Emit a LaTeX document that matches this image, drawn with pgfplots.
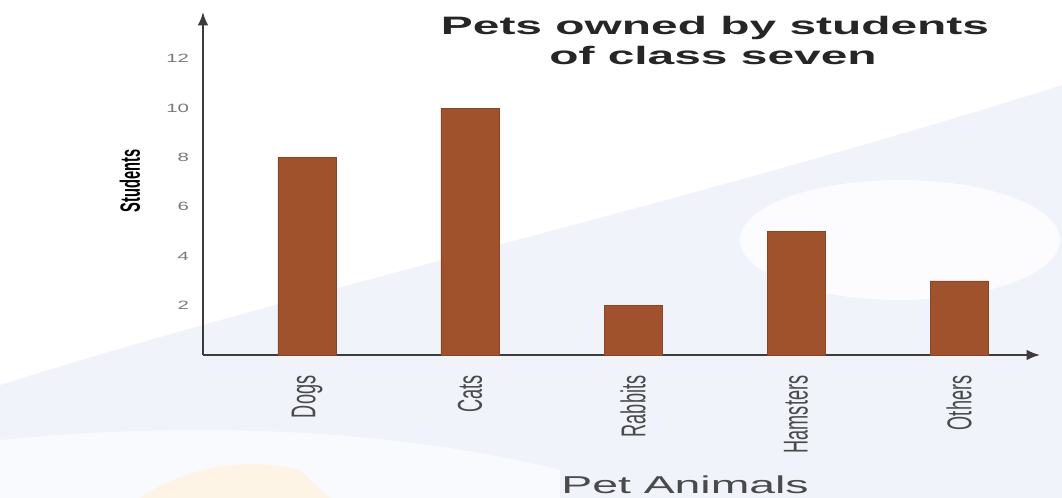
\documentclass[border=0pt]{standalone}
\usepackage{pgfplots}
\pgfplotsset{compat=1.18}
\usetikzlibrary{arrows.meta}
\usepackage{graphicx}
\usepackage{fontspec}
\setmainfont{Liberation Sans}
\newfontfamily\wide[FakeStretch=1.9]{Liberation Sans}
\newfontfamily\tickwide[FakeStretch=1.7]{Liberation Sans}
\definecolor{barbrown}{HTML}{A0522D}
\definecolor{axisgray}{HTML}{3C3C3C}
\definecolor{labelgray}{HTML}{4A4A4A}
\definecolor{tickgray}{HTML}{7A7A7A}
\definecolor{bgblue}{HTML}{F0F3FA}
\definecolor{bgorange}{HTML}{FDF4E6}
\begin{document}
\begin{tikzpicture}
\begin{scope}[x=0.75pt,y=-0.75pt]
\path[use as bounding box] (0,0) rectangle (1062,498);
\fill[white] (0,0) rectangle (1062,498);
\fill[bgblue] (0,385) .. controls (300,290) and (700,200) .. (1062,85) -- (1062,498) -- (0,498) -- cycle;
\fill[white, opacity=0.8] (900,240) ellipse (160 and 60);
\fill[white, opacity=0.6] (0,440) .. controls (200,420) and (400,430) .. (560,470) -- (560,498) -- (0,498) -- cycle;
\fill[bgorange] (140,498) .. controls (180,470) and (240,455) .. (300,470) -- (330,498) -- cycle;
\end{scope}
\begin{axis}[
  at={(152.25pt,-266.25pt)}, anchor=south west,
  scale only axis, width=627.75pt, height=257.25pt,
  xmin=0.362, xmax=5.497, ymin=0, ymax=13.89,
  axis lines=left,
  axis line style={draw=axisgray, line width=1.6pt, -{Latex[length=10pt,width=8pt]}},
  ybar, bar width=43.5pt,
  xtick={1,2,3,4,5},
  xticklabels={\scalebox{1}[1.9]{Dogs},\scalebox{1}[1.9]{Cats},\scalebox{1}[1.9]{Rabbits},\scalebox{1}[1.9]{Hamsters},\scalebox{1}[1.9]{Others}},
  ytick={2,4,6,8,10,12},
  yticklabels={2,4,6,8,10,12},
  /pgf/number format/assume math mode=true,
  major tick length=0pt,
  yticklabel style={font=\tickwide\fontsize{9}{10}\selectfont, text=tickgray, xshift=-7pt},
  xticklabel style={rotate=90, anchor=east, font=\fontsize{13.6}{16}\selectfont, text=labelgray},
  xticklabel shift=12pt,
  clip=false,
]
\addplot[fill=barbrown, draw=barbrown!85!black, line width=0.6pt] coordinates {(1,8) (2,10) (3,2) (4,5) (5,3)};
\end{axis}
\begin{scope}[x=0.75pt,y=-0.75pt]
\node[anchor=base, font=\wide\bfseries\fontsize{18.9}{22}\selectfont, text=black!85, inner sep=0] at (715,35) {Pets owned by students};
\node[anchor=base, font=\wide\bfseries\fontsize{18.9}{22}\selectfont, text=black!85, inner sep=0] at (713,65) {of class seven};
\node[anchor=base, font=\wide\fontsize{18.3}{22}\selectfont, text=labelgray, inner sep=0] at (685,493) {Pet Animals};
\node[rotate=90, font=\bfseries\fontsize{11}{13}\selectfont, inner sep=0] at (130,181) {\scalebox{1}[1.9]{Students}};
\end{scope}
\end{tikzpicture}
\end{document}
